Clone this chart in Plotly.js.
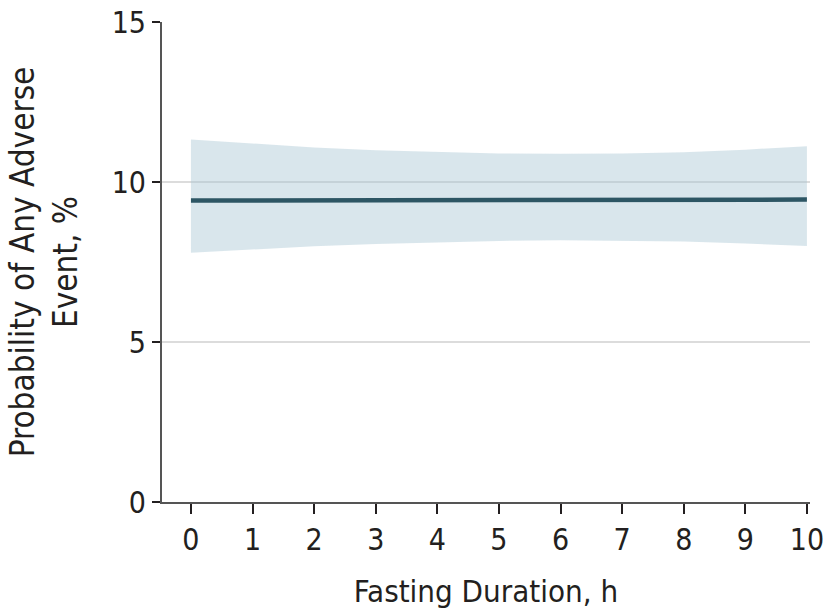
<!DOCTYPE html>
<html>
<head>
<meta charset="utf-8">
<script src="https://cdn.plot.ly/plotly-3.0.1.min.js"></script>
<style>html,body{margin:0;padding:0;background:#fff;}#chart{width:827px;height:611px;}</style>
</head>
<body>
<div id="chart"></div>
<script>
const hours = [0, 1, 2, 3, 4, 5, 6, 7, 8, 9, 10];
const probability = [9.42, 9.42, 9.43, 9.43, 9.43, 9.44, 9.44, 9.44, 9.45, 9.45, 9.45];
const upperCI = [11.33, 11.2, 11.08, 10.99, 10.93, 10.89, 10.88, 10.89, 10.93, 11.01, 11.12];
const lowerCI = [7.79, 7.90, 7.99, 8.06, 8.12, 8.16, 8.18, 8.17, 8.14, 8.08, 8.00];
const xTicks = [0, 1, 2, 3, 4, 5, 6, 7, 8, 9, 10];
const yTicks = [0, 5, 10, 15];

const FONT = "'DejaVu Sans Condensed', 'Liberation Sans Narrow', sans-serif";

const traces = [
  {x: hours, y: lowerCI, type: 'scatter', mode: 'lines', line: {width: 0, color: 'rgba(0,0,0,0)'}, hoverinfo: 'skip', showlegend: false},
  {x: hours, y: upperCI, type: 'scatter', mode: 'lines', fill: 'tonexty', fillcolor: 'rgba(168,196,210,0.43)', line: {width: 0, color: 'rgba(0,0,0,0)'}, hoverinfo: 'skip', showlegend: false},
  {x: hours, y: probability, type: 'scatter', mode: 'lines', line: {width: 4.5, color: '#2d5664'}, showlegend: false}
];

const layout = {
  width: 827, height: 611,
  margin: {l: 162, r: 17, t: 22, b: 109},
  paper_bgcolor: '#fff', plot_bgcolor: '#fff',
  font: {family: FONT, size: 30, color: '#231f20'},
  showlegend: false,
  xaxis: {
    range: [-0.47, 10.05], tickvals: xTicks, ticktext: xTicks.map(String),
    showgrid: false, zeroline: false, showline: true, linecolor: '#555', linewidth: 2,
    ticks: 'outside', ticklen: 10, tickwidth: 2, tickcolor: '#231f20',
    tickfont: {family: FONT, size: 30, color: '#231f20'},
    title: {text: 'Fasting Duration, h', font: {family: FONT, size: 31, color: '#231f20'}, standoff: 24}
  },
  yaxis: {
    range: [0, 15], tickvals: yTicks, ticktext: yTicks.map(String),
    showgrid: true, gridcolor: '#dcdcdc', gridwidth: 2, zeroline: false,
    showline: true, linecolor: '#555', linewidth: 2,
    ticks: 'outside', ticklen: 8, tickwidth: 2, tickcolor: '#231f20',
    tickfont: {family: FONT, size: 30, color: '#231f20'},
    title: {text: 'Probability of Any Adverse<br>Event, %', font: {family: FONT, size: 33, color: '#231f20'}, standoff: 24}
  }
};

Plotly.newPlot('chart', traces, layout, {displayModeBar: false, staticPlot: true});
</script>
</body>
</html>
